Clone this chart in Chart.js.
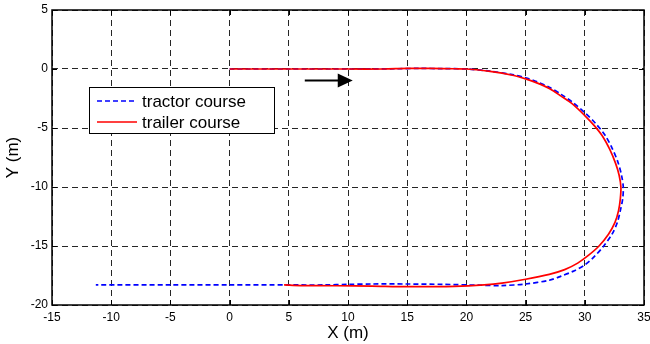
<!DOCTYPE html>
<html>
<head>
<meta charset="utf-8">
<script src="https://cdn.jsdelivr.net/npm/chart.js@4/dist/chart.umd.min.js"></script>
<style>
html,body{margin:0;padding:0;background:#fff;}
#wrap{width:650px;height:344px;position:relative;}
</style>
</head>
<body>
<div id="wrap"><canvas id="c" width="650" height="344"></canvas></div>
<script>
// ---- data ----
const tractorX = [0, 5, 10, 14, 16, 18, 20, 22, 24, 25, 26, 27, 28, 29, 30, 30.9, 31.7, 32.3, 32.8, 33.1, 33.25, 33.2, 33.0, 32.75, 32.3, 31.6, 30.8, 30.0, 29.0, 28.0, 27.0, 25.0, 23.0, 21.0, 18.0, 15.0, 12.0, 10.0, 8.0, 5.0, 0.0, -5.0, -11.3];
const tractorY = [0, 0, 0, 0.02, 0.05, 0.03, 0, -0.18, -0.5, -0.75, -1.1, -1.55, -2.15, -2.85, -3.7, -4.6, -5.6, -6.7, -7.9, -9.0, -10.0, -11.0, -12.0, -13.0, -14.0, -15.0, -15.9, -16.6, -17.15, -17.55, -17.9, -18.22, -18.35, -18.32, -18.25, -18.22, -18.22, -18.25, -18.3, -18.3, -18.3, -18.3, -18.3];
const trailerX = [0, 5, 10, 13, 15, 17, 19, 20, 22, 24, 25, 26, 27, 28, 29, 30, 30.8, 31.5, 32.1, 32.6, 32.9, 33.05, 33.0, 32.85, 32.55, 32.0, 31.2, 30.3, 29.4, 28.3, 27.0, 25.0, 23.0, 21.5, 19.0, 15.0, 12.0, 9.0, 6.0, 4.6];
const trailerY = [0, 0, 0, 0, 0.05, 0.05, 0.02, 0, -0.2, -0.55, -0.84, -1.2, -1.65, -2.3, -3.0, -3.95, -4.8, -5.7, -6.8, -8.0, -9.0, -10.0, -11.0, -12.0, -13.0, -14.0, -15.0, -15.8, -16.45, -17.0, -17.4, -17.82, -18.15, -18.3, -18.42, -18.45, -18.4, -18.37, -18.35, -18.3];
const arrowFrom = [6.35, -0.98];
const arrowTo = [10.4, -0.98];
const xTicks = [-15, -10, -5, 0, 5, 10, 15, 20, 25, 30, 35];
const yTicks = [5, 0, -5, -10, -15, -20];
const seriesNames = ['tractor course', 'trailer course'];
const axisTitles = ['X (m)', 'Y (m)'];

const toPts = (xs, ys) => xs.map((x, i) => ({x: x, y: ys[i]}));
const FONT = 'Liberation Sans, Arial, sans-serif';

const boxPlugin = {
  id: 'boxPlugin',
  afterDraw(chart) {
    const ctx = chart.ctx;
    const a = chart.chartArea;
    const xs = chart.scales.x, ys = chart.scales.y;
    ctx.save();
    // inward ticks
    ctx.strokeStyle = '#000';
    ctx.lineWidth = 1;
    ctx.beginPath();
    const tl = 5;
    xTicks.forEach(v => {
      const px = Math.round(xs.getPixelForValue(v)) + 0.5;
      ctx.moveTo(px, a.bottom); ctx.lineTo(px, a.bottom - tl);
      ctx.moveTo(px, a.top); ctx.lineTo(px, a.top + tl);
    });
    yTicks.forEach(v => {
      const py = Math.round(ys.getPixelForValue(v)) + 0.5;
      ctx.moveTo(a.left, py); ctx.lineTo(a.left + tl, py);
      ctx.moveTo(a.right, py); ctx.lineTo(a.right - tl, py);
    });
    ctx.stroke();
    // box
    ctx.lineWidth = 1.5;
    ctx.strokeRect(a.left, a.top, a.right - a.left, a.bottom - a.top);
    // arrow
    const x0 = xs.getPixelForValue(arrowFrom[0]);
    const x1 = xs.getPixelForValue(arrowTo[0]);
    const y0 = ys.getPixelForValue(arrowFrom[1]);
    ctx.fillStyle = '#000';
    ctx.lineWidth = 2;
    ctx.beginPath();
    ctx.moveTo(x0, y0); ctx.lineTo(x1 - 12, y0);
    ctx.stroke();
    ctx.beginPath();
    ctx.moveTo(x1, y0);
    ctx.lineTo(x1 - 15, y0 - 7);
    ctx.lineTo(x1 - 15, y0 + 7);
    ctx.closePath();
    ctx.fill();
    // legend
    const lx = 89, ly = 87, lw = 185, lh = 46;
    ctx.fillStyle = '#fff';
    ctx.fillRect(lx, ly, lw, lh);
    ctx.lineWidth = 1;
    ctx.strokeStyle = '#000';
    ctx.strokeRect(lx + 0.5, ly + 0.5, lw, lh);
    const ds = chart.data.datasets;
    const rows = [ly + 14, ly + 35];
    ctx.font = '17px ' + FONT;
    ctx.textBaseline = 'middle';
    ctx.textAlign = 'left';
    [1, 0].forEach((di, r) => {
      const d = ds[di];
      ctx.strokeStyle = d.borderColor;
      ctx.lineWidth = 1.5;
      ctx.setLineDash(d.borderDash || []);
      ctx.beginPath();
      ctx.moveTo(lx + 8, rows[r]); ctx.lineTo(lx + 48, rows[r]);
      ctx.stroke();
      ctx.setLineDash([]);
      ctx.fillStyle = '#000';
      ctx.fillText(d.label, lx + 53, rows[r] + 1);
    });
    ctx.restore();
  }
};

new Chart(document.getElementById('c'), {
  type: 'scatter',
  data: {
    datasets: [
      {label: seriesNames[1], data: toPts(trailerX, trailerY), showLine: true, borderColor: '#ff0000', borderWidth: 1.7, pointRadius: 0, order: 0, tension: 0.3},
      {label: seriesNames[0], data: toPts(tractorX, tractorY), showLine: true, borderColor: '#0000ff', borderWidth: 1.7, borderDash: [5, 3], pointRadius: 0, order: 1, tension: 0.3}
    ]
  },
  options: {
    responsive: false,
    animation: false,
    devicePixelRatio: 1,
    layout: {padding: {top: 10, right: 6, left: 0, bottom: 0}},
    plugins: {legend: {display: false}, tooltip: {enabled: false}},
    scales: {
      x: {
        type: 'linear', min: -15, max: 35,
        afterBuildTicks: s => { s.ticks = xTicks.map(v => ({value: v})); },
        afterFit: s => { s.height = 39; s.paddingLeft = 0; s.paddingRight = 0; },
        ticks: {font: {family: FONT, size: 12}, color: '#000', padding: 5, maxRotation: 0, autoSkip: false},
        grid: {color: 'rgba(0,0,0,0.85)', lineWidth: 1, drawTicks: false},
        border: {display: false, dash: [6, 4]},
        title: {display: true, text: axisTitles[0], font: {family: FONT, size: 17}, color: '#000', padding: {top: 0, bottom: 0}}
      },
      y: {
        type: 'linear', min: -20, max: 5,
        afterBuildTicks: s => { s.ticks = yTicks.map(v => ({value: v})); },
        afterFit: s => { s.width = 52; s.paddingTop = 0; s.paddingBottom = 0; },
        ticks: {font: {family: FONT, size: 12}, color: '#000', padding: 4, autoSkip: false},
        grid: {color: 'rgba(0,0,0,0.85)', lineWidth: 1, drawTicks: false},
        border: {display: false, dash: [6, 4]},
        title: {display: true, text: axisTitles[1], font: {family: FONT, size: 17}, color: '#000', padding: {top: 3, bottom: 4}}
      }
    }
  },
  plugins: [boxPlugin]
});
</script>
</body>
</html>
